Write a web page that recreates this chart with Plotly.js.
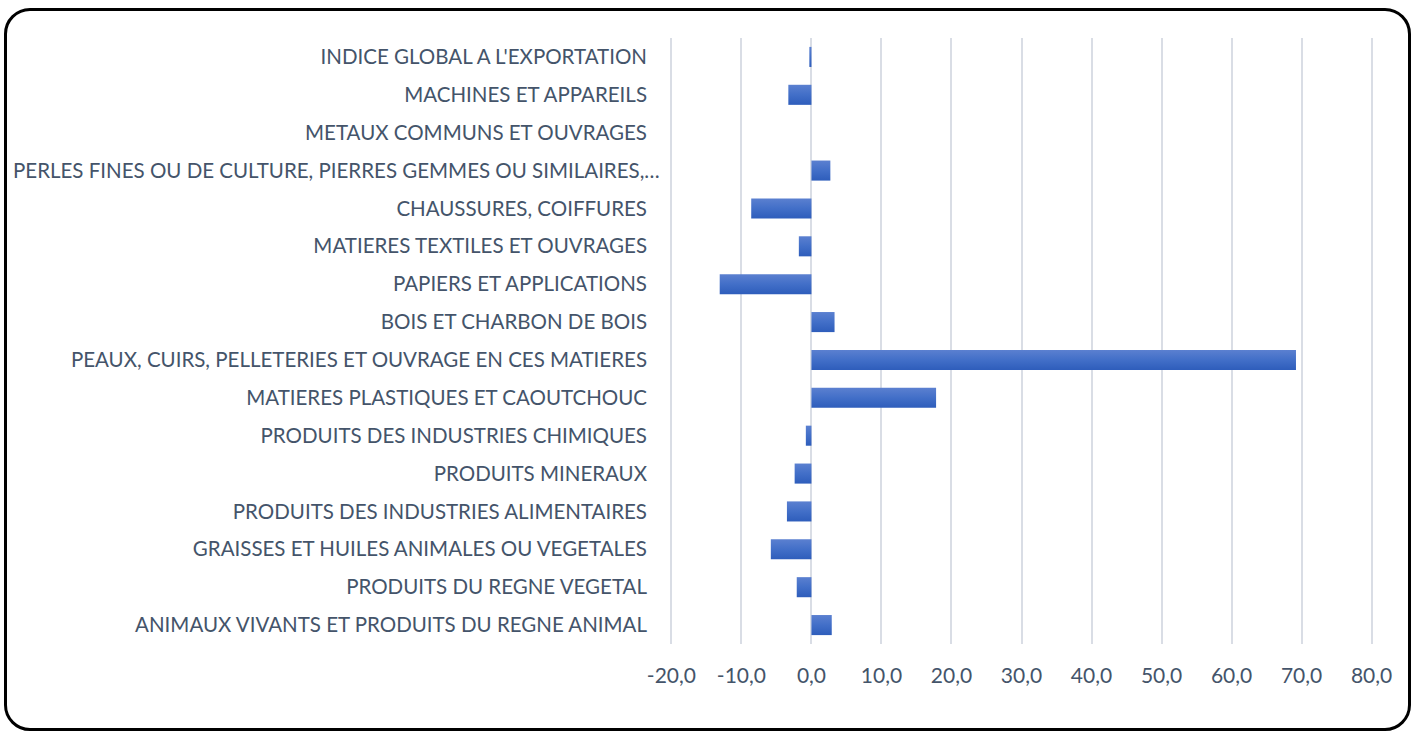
<!DOCTYPE html>
<html><head><meta charset="utf-8">
<script src="https://cdn.plot.ly/plotly-3.0.1.min.js"></script>
<style>
html,body{margin:0;padding:0;background:#fff;overflow:hidden}
#frame{position:absolute;left:4px;top:8px;width:1401px;height:717px;border:3px solid #000;border-radius:26px;background:#fff}
#chart{width:1401px;height:717px}
</style></head><body>
<div id="frame"><div id="chart"></div></div>
<script>
const categories = [
  "ANIMAUX VIVANTS ET PRODUITS DU REGNE ANIMAL",
  "PRODUITS DU REGNE VEGETAL",
  "GRAISSES ET HUILES ANIMALES OU VEGETALES",
  "PRODUITS DES INDUSTRIES ALIMENTAIRES",
  "PRODUITS MINERAUX",
  "PRODUITS DES INDUSTRIES CHIMIQUES",
  "MATIERES PLASTIQUES ET CAOUTCHOUC",
  "PEAUX, CUIRS, PELLETERIES ET OUVRAGE EN CES MATIERES",
  "BOIS ET CHARBON DE BOIS",
  "PAPIERS ET APPLICATIONS",
  "MATIERES TEXTILES ET OUVRAGES",
  "CHAUSSURES, COIFFURES",
  "PERLES FINES OU DE CULTURE, PIERRES GEMMES OU SIMILAIRES,…",
  "METAUX COMMUNS ET OUVRAGES",
  "MACHINES ET APPAREILS",
  "INDICE GLOBAL A L'EXPORTATION"
];
const values = [2.9, -2.1, -5.8, -3.5, -2.4, -0.8, 17.8, 69.2, 3.3, -13.1, -1.8, -8.6, 2.7, 0.0, -3.3, -0.3];
const xTickVals = [-20, -10, 0, 10, 20, 30, 40, 50, 60, 70, 80];
const xTickText = ["-20,0", "-10,0", "0,0", "10,0", "20,0", "30,0", "40,0", "50,0", "60,0", "70,0", "80,0"];

const textColor = "#44546A";
const fontFam = "Lato, 'Open Sans', sans-serif";
const trace = {
  type: "bar", orientation: "h",
  x: values, y: categories,
  marker: {color: "#4472C4", line: {width: 0}},
  hoverinfo: "x+y"
};
const layout = {
  width: 1401, height: 717,
  margin: {l: 663, r: 35, t: 27, b: 84},
  paper_bgcolor: "rgba(0,0,0,0)", plot_bgcolor: "#fff",
  bargap: 0.47,
  showlegend: false,
  font: {family: fontFam, color: textColor},
  xaxis: {
    range: [-20.2, 80.2], tickvals: xTickVals, ticktext: xTickText,
    showgrid: true, gridcolor: "#D9DDE5", gridwidth: 2,
    zeroline: false, showline: false, ticks: "",
    ticklabelstandoff: 17,
    tickfont: {size: 21, color: textColor, family: fontFam}
  },
  yaxis: {
    type: "category", categoryorder: "array", categoryarray: categories,
    showgrid: false, zeroline: false, showline: false, ticks: "",
    ticklabelstandoff: 22,
    tickfont: {size: 20.5, color: textColor, family: fontFam}
  }
};
Plotly.newPlot("chart", [trace], layout, {displayModeBar: false, staticPlot: true}).then(function (gd) {
  const svgNS = "http://www.w3.org/2000/svg";
  const svg = gd.querySelector("svg.main-svg");
  let defs = svg.querySelector("defs");
  if (!defs) { defs = document.createElementNS(svgNS, "defs"); svg.insertBefore(defs, svg.firstChild); }
  const grad = document.createElementNS(svgNS, "linearGradient");
  grad.setAttribute("id", "barGrad");
  grad.setAttribute("x1", "0"); grad.setAttribute("y1", "0");
  grad.setAttribute("x2", "0"); grad.setAttribute("y2", "1");
  [["0", "#5B80D0"], ["0.5", "#426FC8"], ["1", "#2E5DBB"]].forEach(function (s) {
    const st = document.createElementNS(svgNS, "stop");
    st.setAttribute("offset", s[0]); st.setAttribute("stop-color", s[1]);
    grad.appendChild(st);
  });
  defs.appendChild(grad);
  gd.querySelectorAll(".barlayer .point path").forEach(function (p) {
    p.style.fill = "url(#barGrad)";
  });
  // Truncated long label: keep it inside the frame (left-aligned like the original)
  gd.querySelectorAll(".ytick text").forEach(function (t) {
    const bb = t.getBBox();
    const ctm = t.getCTM();
    const left = bb.x + (ctm ? ctm.e : 0);
    if (left < 6) {
      const dx = 6 - left;
      t.setAttribute("x", (parseFloat(t.getAttribute("x")) || 0) + dx);
    }
  });
});
</script></body></html>
